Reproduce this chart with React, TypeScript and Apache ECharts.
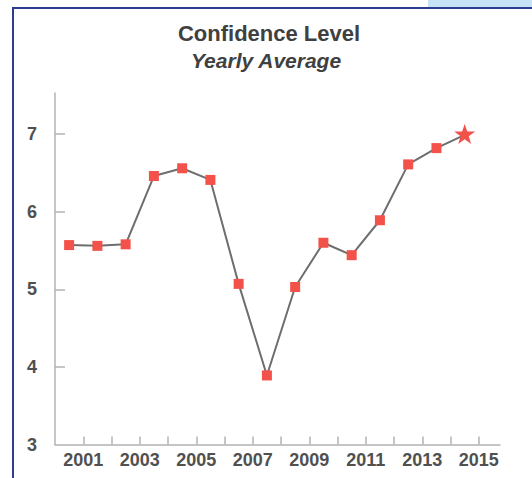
import React, { useEffect, useRef } from "react";
import * as echarts from "echarts";

const years = [2000, 2001, 2002, 2003, 2004, 2005, 2006, 2007, 2008, 2009, 2010, 2011, 2012, 2013, 2014];
const values = [5.57, 5.56, 5.58, 6.46, 6.56, 6.41, 5.07, 3.89, 5.03, 5.6, 5.44, 5.89, 6.61, 6.82, 6.99];
const xTickValues = [2001, 2002, 2003, 2004, 2005, 2006, 2007, 2008, 2009, 2010, 2011, 2012, 2013, 2014, 2015];
const xLabelValues = [2001, 2003, 2005, 2007, 2009, 2011, 2013, 2015];
const yTickValues = [4, 5, 6, 7];
const yLabelValues = [3, 4, 5, 6, 7];
const titleText = "Confidence Level";
const subtitleText = "Yearly Average";

const STAR =
  "path://M50,0 L61.8,35.1 L98.1,35.1 L68.7,56.8 L79.4,91.9 L50,70.2 L20.6,91.9 L31.3,56.8 L1.9,35.1 L38.2,35.1 Z";

export default function App() {
  const ref = useRef<HTMLDivElement>(null);
  useEffect(() => {
    if (!ref.current) return;
    const chart = echarts.init(ref.current, null, { renderer: "svg" });
    const data = years.map((y, i) => {
      const item: any = { value: [y + 0.5, values[i]] };
      if (i === years.length - 1) {
        item.symbol = STAR;
        item.symbolSize = [21, 20];
        item.symbolOffset = [0, -1];
      }
      return item;
    });
    const font = "'Liberation Sans', Arial, sans-serif";
    chart.setOption({
      animation: false,
      backgroundColor: "#ffffff",
      graphic: [
        { type: "rect", shape: { x: 428, y: 0, width: 104, height: 7 }, style: { fill: "#c6e2f6" } },
        { type: "line", shape: { x1: 12, y1: 8, x2: 532, y2: 8 }, style: { stroke: "#2a3d8f", lineWidth: 2 } },
        { type: "line", shape: { x1: 13, y1: 7, x2: 13, y2: 478 }, style: { stroke: "#2a3d8f", lineWidth: 2 } },
        {
          type: "text",
          x: 269,
          y: 33,
          style: {
            text: titleText,
            fill: "#404040",
            font: `bold 22px ${font}`,
            align: "center",
            verticalAlign: "middle",
          },
        },
        {
          type: "text",
          x: 266,
          y: 60,
          style: {
            text: subtitleText,
            fill: "#404040",
            font: `italic bold 21px ${font}`,
            align: "center",
            verticalAlign: "middle",
          },
        },
      ],
      grid: { left: 55, right: 32, top: 93, bottom: 33.5 },
      xAxis: {
        type: "value",
        min: 2000,
        max: 2015.75,
        splitLine: { show: false },
        axisLine: { show: true, lineStyle: { color: "#b3b3b3", width: 1.5 } },
        axisTick: {
          show: true,
          inside: true,
          length: 8,
          customValues: xTickValues,
          lineStyle: { color: "#b3b3b3", width: 1.5 },
        },
        axisLabel: {
          customValues: xLabelValues,
          formatter: (v: number) => String(v),
          margin: 6,
          color: "#505050",
          fontSize: 18,
          fontWeight: "bold",
          fontFamily: font,
        },
      },
      yAxis: {
        type: "value",
        min: 3,
        max: 7.53,
        splitLine: { show: false },
        axisLine: { show: true, lineStyle: { color: "#b3b3b3", width: 1.5 } },
        axisTick: {
          show: true,
          inside: true,
          length: 10,
          customValues: yTickValues,
          lineStyle: { color: "#b3b3b3", width: 1.5 },
        },
        axisLabel: {
          customValues: yLabelValues,
          formatter: (v: number) => String(v),
          margin: 18,
          color: "#505050",
          fontSize: 18,
          fontWeight: "bold",
          fontFamily: font,
        },
      },
      series: [
        {
          type: "line",
          data,
          symbol: "rect",
          symbolSize: 10,
          showAllSymbol: true,
          lineStyle: { color: "#6e6e6e", width: 2 },
          itemStyle: { color: "#f2524a", opacity: 1 },
          z: 3,
        },
      ],
    });
    return () => chart.dispose();
  }, []);
  return (
    <div
      ref={ref}
      style={{ position: "fixed", left: 0, top: 0, width: 532, height: 478 }}
    />
  );
}
